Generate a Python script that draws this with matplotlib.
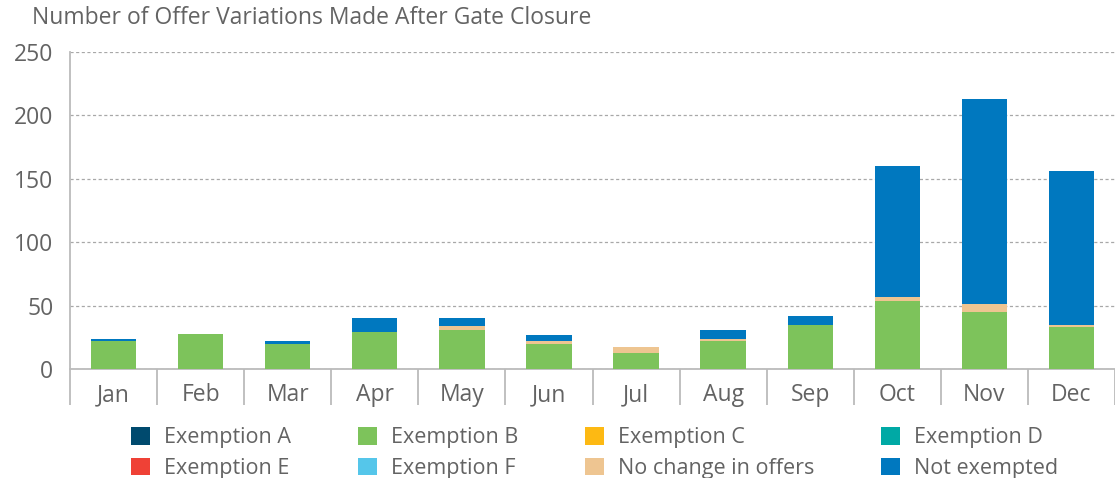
import matplotlib
matplotlib.use("Agg")
import matplotlib.pyplot as plt
import numpy as np
from matplotlib.patches import Patch

plt.rcParams['font.family'] = ['Open Sans', 'DejaVu Sans']

months = ["Jan", "Feb", "Mar", "Apr", "May", "Jun",
          "Jul", "Aug", "Sep", "Oct", "Nov", "Dec"]

# values (stack order: bottom -> top)
exemption_a = [0, 0, 0, 0, 0, 0, 0, 0, 0, 0, 0, 0]
exemption_b = [22, 28, 20, 29, 31, 20, 13, 22, 35, 54, 45, 33]
exemption_c = [0, 0, 0, 0, 0, 0, 0, 0, 0, 0, 0, 0]
exemption_d = [0, 0, 0, 0, 0, 0, 0, 0, 0, 0, 0, 0]
exemption_e = [0, 0, 0, 0, 0, 0, 0, 0, 0, 0, 0, 0]
exemption_f = [0, 0, 0, 0, 0, 0, 0, 0, 0, 0, 0, 0]
no_change = [0, 0, 0, 0, 3, 2, 4, 2, 0, 3, 6, 2]
not_exempted = [2, 0, 2, 11, 6, 5, 0, 7, 7, 103, 162, 121]

series = [
    ("Exemption A", exemption_a, "#004a6e"),
    ("Exemption B", exemption_b, "#7dc35b"),
    ("Exemption C", exemption_c, "#fdb913"),
    ("Exemption D", exemption_d, "#00a9a5"),
    ("Exemption E", exemption_e, "#ef4136"),
    ("Exemption F", exemption_f, "#55c6ea"),
    ("No change in offers", no_change, "#eec591"),
    ("Not exempted", not_exempted, "#0078bf"),
]

text_col = "#636363"
line_col = "#bbbbbb"

fig = plt.figure(figsize=(11.15, 4.78), dpi=100)
ax = fig.add_axes([0.0628, 0.228, 0.9372, 0.663])

x = np.arange(len(months))
bottom = np.zeros(len(months))
for name, vals, col in series:
    vals = np.array(vals, dtype=float)
    ax.bar(x, vals, width=0.52, bottom=bottom, color=col, zorder=3)
    bottom += vals

ax.set_xlim(-0.5, 11.375)
ax.set_ylim(0, 250)
ax.set_yticks([0, 50, 100, 150, 200, 250])
ax.yaxis.grid(True, linestyle=(0, (2.5, 2)), color="#a8a8a8", linewidth=0.9, zorder=0)
ax.set_xticks(x)
ax.set_xticklabels(months)
ax.set_xticks(np.arange(-0.5, 12, 1.0), minor=True)
ax.tick_params(axis="x", which="major", length=0, pad=10, labelsize=16.5, labelcolor=text_col)
ax.tick_params(axis="x", which="minor", length=26, width=1.3, color=line_col, direction="out")
ax.tick_params(axis="y", length=0, pad=12, labelsize=16.5, labelcolor=text_col)

for s in ["top", "right"]:
    ax.spines[s].set_visible(False)
for s in ["left", "bottom"]:
    ax.spines[s].set_color(line_col)
    ax.spines[s].set_linewidth(1.3)

fig.text(0.029, 0.962, "Number of Offer Variations Made After Gate Closure",
         fontsize=16.5, color=text_col, va="center", ha="left")

# legend filled row by row (4 columns)
order = [0, 4, 1, 5, 2, 6, 3, 7]
handles = [Patch(facecolor=series[i][2], label=series[i][0]) for i in order]
leg = fig.legend(handles=handles, ncol=4, loc="center left",
                 bbox_to_anchor=(0.1175, 0.0523), frameon=False,
                 fontsize=15.5, handlelength=0.88, handleheight=0.88,
                 handletextpad=0.65, columnspacing=3.1, labelspacing=0.42,
                 borderpad=0, borderaxespad=0)
for t in leg.get_texts():
    t.set_color(text_col)

fig.savefig("out.png", dpi=100)
